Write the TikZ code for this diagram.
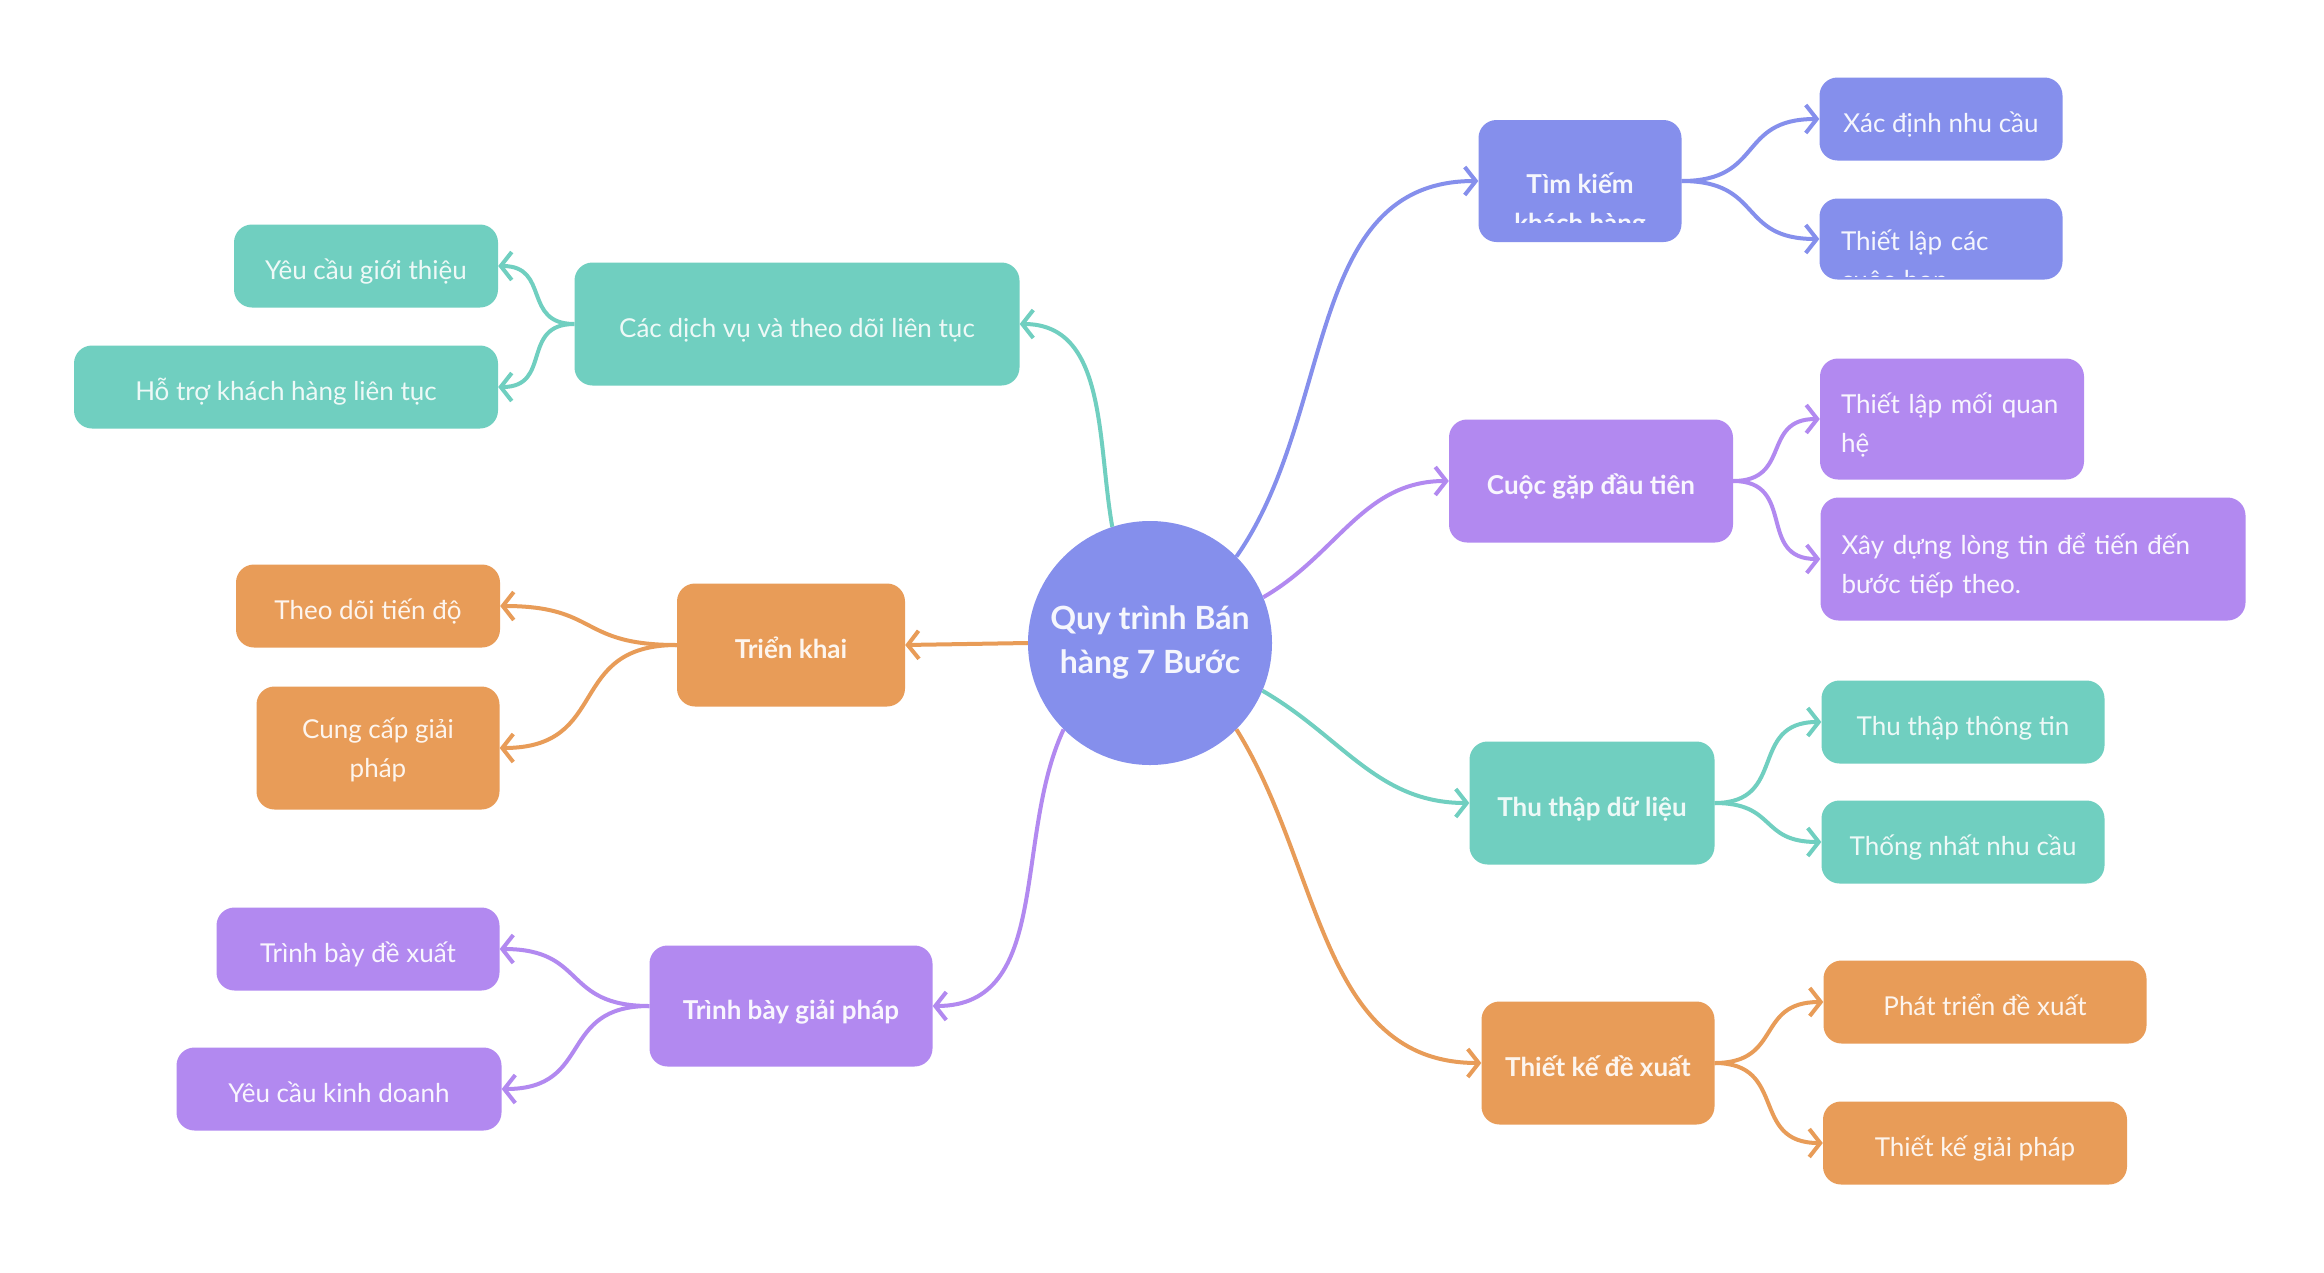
\documentclass[tikz,border=0pt]{standalone}
\usepackage{fontspec}
\setmainfont{Lato}
\usepackage{tikz}
\usetikzlibrary{shapes,arrows.meta,positioning,calc}
\usepackage{xcolor}

\definecolor{cblue}{HTML}{858FEC}
\definecolor{cpurple}{HTML}{B289F0}
\definecolor{cteal}{HTML}{70CFC0}
\definecolor{corange}{HTML}{E89C58}

\begin{document}
\begin{tikzpicture}[
    x=1pt, y=-1pt,
    hub/.style={circle, fill=cblue, minimum size=244pt, inner sep=0pt, text=white!92!cblue, font=\fontsize{32}{44}\selectfont\bfseries},
    topic/.style={rectangle, rounded corners=18pt, minimum height=123pt, inner sep=0pt, align=center, text height=32pt, text depth=5pt, font=\fontsize{26}{39}\selectfont\bfseries},
    leaf/.style={rectangle, rounded corners=18pt, minimum height=83pt, inner sep=0pt, align=center, text height=32pt, text depth=5pt, font=\fontsize{26}{39}\selectfont},
    multi/.style={text height=, text depth=-4pt},
    multileft/.style={text height=, text depth=31pt, inner xsep=21pt, align=left},
    bluebox/.style={fill=cblue, text=white!92!cblue},
    purplebox/.style={fill=cpurple, text=white!92!cpurple},
    tealbox/.style={fill=cteal, text=white!88!cteal},
    orangebox/.style={fill=corange, text=white!90!corange},
    link/.style={line width=4pt, -{Straight Barb[length=11pt,width=28pt]}},
    twig/.style={link, looseness=1.4}
]
\useasboundingbox[fill=white] (0,0) rectangle (2324,1272);

% Nodes
\node[hub] (hub) at (1150,643) {\raisebox{3pt}{\begin{tabular}{@{}c@{}}Quy trình Bán\\hàng 7 Bước\end{tabular}}};

\node[topic, bluebox, minimum width=203pt, minimum height=122pt] (tim) at (1580,181) {};
\begin{scope}
\clip (tim.north west) rectangle ([yshift=20pt]tim.south east);
\node[topic, multi, text depth=, text=white!92!cblue, minimum height=0pt] (timtext) at (1580,205) {Tìm kiếm\\khách hàng};
\end{scope}
\node[leaf, bluebox, minimum width=243pt] (xac) at (1941,119) {Xác định nhu cầu};
\node[leaf, bluebox, minimum width=243pt, minimum height=81pt] (hop) at (1941,239) {};
\begin{scope}
\clip (hop.north west) rectangle ([yshift=3pt]hop.south east);
\node[leaf, multi, text depth=, text=white!92!cblue, minimum height=0pt, text width=200pt, inner xsep=21pt, align=left] (hoptext) at (1941,262) {Thiết lập các\\cuộc họp};
\end{scope}

\node[topic, purplebox, minimum width=284pt] (gap) at (1591,481) {Cuộc gặp đầu tiên};
\node[leaf, multileft, purplebox, text width=222pt, minimum height=121pt] (moi) at (1952,419) {Thiết lập mối quan\\hệ};
\node[leaf, multileft, purplebox, text width=383pt, minimum height=123pt] (tin) at (2033,559) {Xây dựng lòng tin để tiến đến\\bước tiếp theo.};

\node[topic, tealbox, minimum width=245pt] (thu) at (1592,803) {Thu thập dữ liệu};
\node[leaf, tealbox, minimum width=283pt] (tt) at (1963,722) {Thu thập thông tin};
\node[leaf, tealbox, minimum width=283pt] (nc) at (1963,842) {Thống nhất nhu cầu};

\node[topic, orangebox, minimum width=233pt] (tk) at (1598,1063) {Thiết kế đề xuất};
\node[leaf, orangebox, minimum width=323pt] (ptdx) at (1985,1002) {Phát triển đề xuất};
\node[leaf, orangebox, minimum width=304pt] (tkgp) at (1975,1143) {Thiết kế giải pháp};

\node[topic, tealbox, minimum width=445pt, font=\fontsize{26}{39}\selectfont] (dv) at (797,324) {Các dịch vụ và theo dõi liên tục};
\node[leaf, tealbox, minimum width=264pt] (gt) at (366,266) {Yêu cầu giới thiệu};
\node[leaf, tealbox, minimum width=424pt] (ht) at (286,387) {Hỗ trợ khách hàng liên tục};

\node[topic, orangebox, minimum width=228pt] (tri) at (791,645) {Triển khai};
\node[leaf, orangebox, minimum width=264pt] (td) at (368,606) {Theo dõi tiến độ};
\node[leaf, multi, orangebox, minimum width=243pt, minimum height=123pt] (cc) at (378,748) {Cung cấp giải\\pháp};

\node[topic, purplebox, minimum width=283pt, minimum height=121pt] (tbgp) at (791,1006) {Trình bày giải pháp};
\node[leaf, purplebox, minimum width=283pt] (tbdx) at (358,949) {Trình bày đề xuất};
\node[leaf, purplebox, minimum width=325pt] (kd) at (339,1089) {Yêu cầu kinh doanh};

% Arrows
\draw[link, cblue] (hub.45) to[out=55, in=180] (tim.west);
\draw[link, cpurple] (hub.22) to[out=30, in=180] (gap.west);
\draw[link, cteal] (hub.-23) to[out=-30, in=180] (thu.west);
\draw[link, corange] (hub.-45) to[out=-58, in=180] (tk.west);
\draw[link, cteal] (hub.108) to[out=100, in=0] (dv.east);
\draw[link, corange] (hub.west) -- (tri.east);
\draw[link, cpurple] (hub.225) to[out=-115, in=0] (tbgp.east);

\draw[twig, cblue] (tim.east) to[out=0, in=180] (xac.west);
\draw[twig, cblue] (tim.east) to[out=0, in=180] (hop.west);
\draw[twig, cpurple] (gap.east) to[out=0, in=180] (moi.west);
\draw[twig, cpurple] (gap.east) to[out=0, in=180] (tin.west);
\draw[twig, cteal] (thu.east) to[out=0, in=180] (tt.west);
\draw[twig, cteal] (thu.east) to[out=0, in=180] (nc.west);
\draw[twig, corange] (tk.east) to[out=0, in=180] (ptdx.west);
\draw[twig, corange] (tk.east) to[out=0, in=180] (tkgp.west);

\draw[twig, cteal] (dv.west) to[out=180, in=0] (gt.east);
\draw[twig, cteal] (dv.west) to[out=180, in=0] (ht.east);
\draw[twig, corange] (tri.west) to[out=180, in=0] (td.east);
\draw[twig, corange] (tri.west) to[out=180, in=0] (cc.east);
\draw[twig, cpurple] (tbgp.west) to[out=180, in=0] (tbdx.east);
\draw[twig, cpurple] (tbgp.west) to[out=180, in=0] (kd.east);

\end{tikzpicture}
\end{document}
